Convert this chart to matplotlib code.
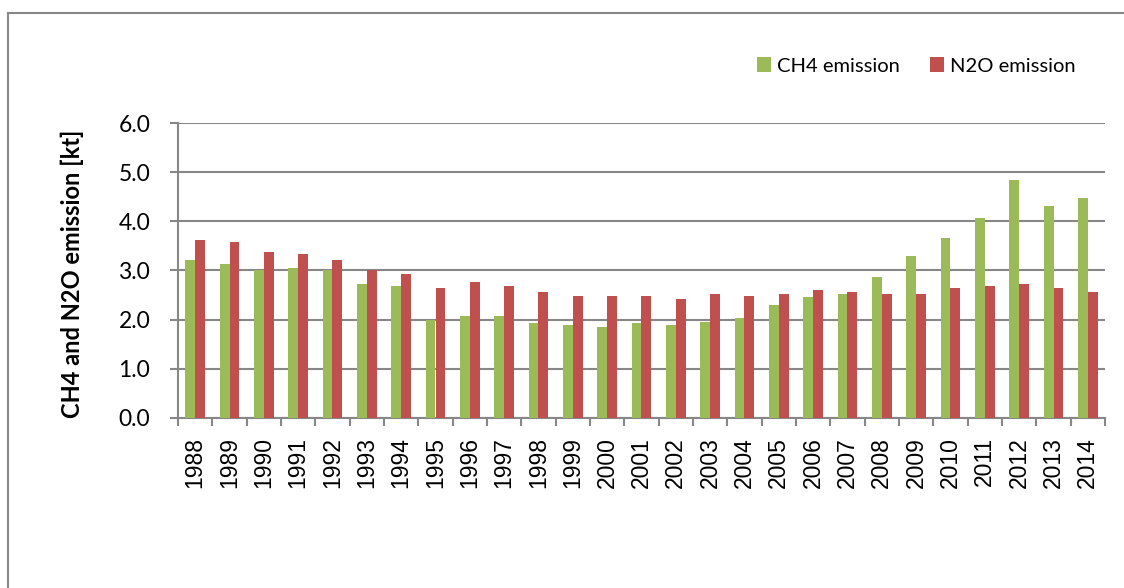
import matplotlib
matplotlib.use("Agg")
import matplotlib.pyplot as plt
from matplotlib.lines import Line2D
import numpy as np

# Anni e emissioni (kt)
years = [str(y) for y in range(1988, 2015)]
ch4 = [3.21, 3.14, 3.01, 3.05, 3.01, 2.73, 2.69, 2.00, 2.08, 2.08,
       1.92, 1.88, 1.84, 1.92, 1.88, 1.96, 2.04, 2.29, 2.45, 2.53,
       2.86, 3.30, 3.67, 4.08, 4.85, 4.32, 4.48]
n2o = [3.62, 3.58, 3.38, 3.34, 3.21, 3.01, 2.93, 2.65, 2.77, 2.69,
       2.57, 2.49, 2.49, 2.49, 2.41, 2.53, 2.49, 2.53, 2.61, 2.57,
       2.53, 2.53, 2.65, 2.69, 2.73, 2.65, 2.57]
y_ticks = [0.0, 1.0, 2.0, 3.0, 4.0, 5.0, 6.0]

W, H = 1124, 588
fig = plt.figure(figsize=(W / 100, H / 100), dpi=100)
ax = fig.add_axes([178 / W, 1 - 417.7 / H, (1105 - 178) / W, (417.7 - 123.3) / H])

grey = '#878787'
x = np.arange(len(years))
bw = 0.29
b1 = ax.bar(x - bw / 2, ch4, bw, color='#9BBB59', label='CH4 emission', zorder=3)
b2 = ax.bar(x + bw / 2, n2o, bw, color='#C0504D', label='N2O emission', zorder=3)

ax.set_xlim(-0.5, len(years) - 0.5)
ax.set_ylim(0, 6)
ax.set_yticks(y_ticks)
ax.set_yticklabels(['%.1f' % v for v in y_ticks], fontfamily='Lato', fontsize=16.5)
ax.yaxis.grid(True, color=grey, linewidth=1.5, zorder=0)
ax.tick_params(axis='y', length=6, width=1.5, color=grey, pad=14)

# tacche tra le categorie, etichette al centro
ax.set_xticks(np.arange(-0.5, len(years), 1.0))
ax.set_xticklabels([])
ax.set_xticks(x, minor=True)
ax.set_xticklabels(years, minor=True, rotation=90, fontfamily='Liberation Sans', fontsize=16.5)
ax.tick_params(axis='x', which='major', length=6, width=1.5, color=grey)
ax.tick_params(axis='x', which='minor', length=0, pad=14)

for s in ['top', 'right']:
    ax.spines[s].set_visible(False)
for s in ['left', 'bottom']:
    ax.spines[s].set_color(grey)
    ax.spines[s].set_linewidth(1.5)
ax.set_axisbelow(True)

fig.text(72 / W, 1 - 274 / H, 'CH4 and N2O emission [kt]', rotation=90,
         ha='center', va='center', fontfamily='Lato', fontweight='bold', fontsize=17)

ax.legend(handles=[b1, b2], ncol=2, loc='center', frameon=False,
          bbox_to_anchor=(916 / W, 1 - 66 / H), bbox_transform=fig.transFigure,
          prop={'family': 'Lato', 'size': 14.5},
          handlelength=0.7, handleheight=0.7, handletextpad=0.3, columnspacing=1.5)

# cornice esterna
fig.add_artist(Line2D([8 / W, 1.0], [1 - 13 / H, 1 - 13 / H], transform=fig.transFigure, color=grey, linewidth=1.5))
fig.add_artist(Line2D([8 / W, 8 / W], [0.0, 1 - 13 / H], transform=fig.transFigure, color=grey, linewidth=1.5))

fig.savefig('out.png', dpi=100)
